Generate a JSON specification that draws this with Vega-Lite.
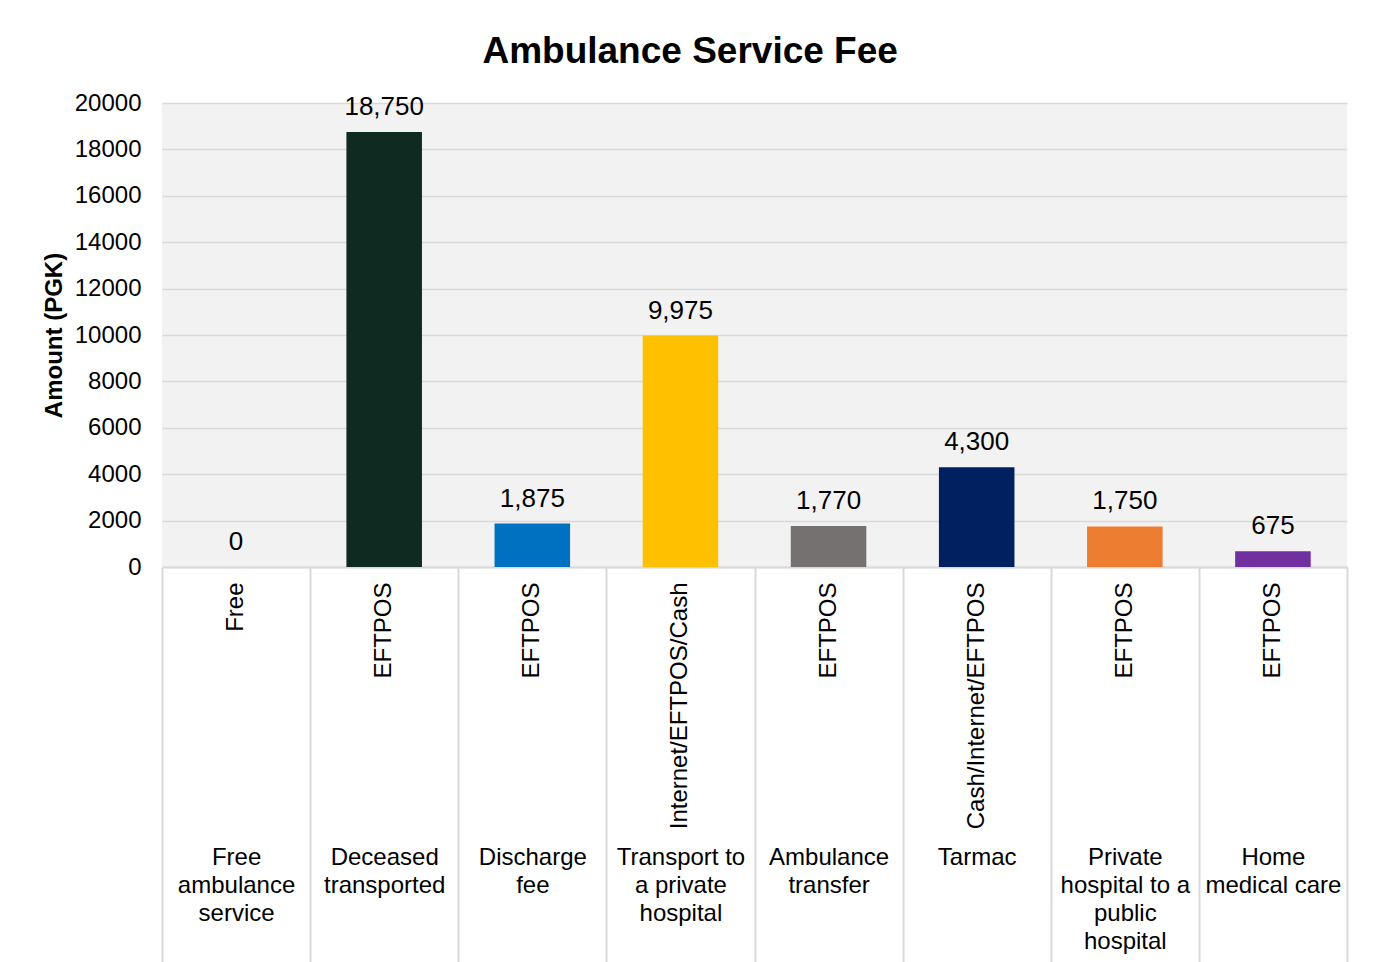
{
  "$schema": "https://vega.github.io/schema/vega-lite/v6.json",
  "autosize": {"type": "none"},
  "padding": {"left": 162, "top": 103, "right": 32, "bottom": 395},
  "width": 1185,
  "height": 464,
  "background": "white",
  "config": {
    "font": "Liberation Sans",
    "view": {"fill": "#f2f2f2", "stroke": null}
  },
  "title": {
    "text": "Ambulance Service Fee",
    "fontSize": 37,
    "fontWeight": "bold",
    "color": "black",
    "anchor": "middle",
    "frame": "bounds",
    "offset": 20,
    "dx": -5
  },
  "data": {
    "values": [
      {"key": "Free|ambulance|service^Free", "service": "Free ambulance service", "amount": 0},
      {"key": "Deceased|transported^EFTPOS", "service": "Deceased transported", "amount": 18750},
      {"key": "Discharge|fee^EFTPOS ", "service": "Discharge fee", "amount": 1875},
      {"key": "Transport to|a private|hospital^Internet/EFTPOS/Cash", "service": "Transport to a private hospital", "amount": 9975},
      {"key": "Ambulance|transfer^EFTPOS  ", "service": "Ambulance transfer", "amount": 1770},
      {"key": "Tarmac^Cash/Internet/EFTPOS", "service": "Tarmac", "amount": 4300},
      {"key": "Private|hospital to a|public|hospital^EFTPOS   ", "service": "Private hospital to a public hospital", "amount": 1750},
      {"key": "Home|medical care^EFTPOS    ", "service": "Home medical care", "amount": 675}
    ]
  },
  "encoding": {
    "x": {
      "field": "key",
      "type": "nominal",
      "sort": null,
      "scale": {"paddingInner": 0, "paddingOuter": 0}
    },
    "y": {
      "field": "amount",
      "type": "quantitative",
      "scale": {"domain": [0, 20000], "nice": false},
      "axis": {
        "title": "Amount (PGK)",
        "titleFontSize": 24,
        "titleFontWeight": "bold",
        "titleColor": "black",
        "titlePadding": 8,
        "values": [0, 2000, 4000, 6000, 8000, 10000, 12000, 14000, 16000, 18000, 20000],
        "format": "d",
        "labelFontSize": 24,
        "labelColor": "black",
        "labelPadding": 21,
        "domain": false,
        "ticks": false,
        "grid": true,
        "gridColor": "#d9d9d9",
        "gridWidth": 1.5
      }
    }
  },
  "layer": [
    {
      "mark": {"type": "bar", "width": {"band": 0.51}},
      "encoding": {
        "x": {
          "field": "key",
          "type": "nominal",
          "sort": null,
          "axis": {
            "orient": "bottom",
            "title": null,
            "labelExpr": "datum.value ? trim(split(datum.value, '^')[1]) : ''",
            "labelAngle": 270,
            "labelAlign": "right",
            "labelBaseline": "middle",
            "labelFontSize": 24,
            "labelColor": "black",
            "labelPadding": 15,
            "labelLimit": 400,
            "ticks": false,
            "domain": true,
            "domainColor": "#d9d9d9",
            "domainWidth": 2,
            "grid": false
          }
        },
        "color": {
          "field": "service",
          "type": "nominal",
          "legend": null,
          "scale": {
            "domain": ["Free ambulance service", "Deceased transported", "Discharge fee", "Transport to a private hospital", "Ambulance transfer", "Tarmac", "Private hospital to a public hospital", "Home medical care"],
            "range": ["#a5a5a5", "#0f2b21", "#0070c0", "#ffc000", "#767171", "#002060", "#ed7d31", "#7030a0"]
          }
        }
      }
    },
    {
      "mark": {"type": "text", "fontSize": 26, "baseline": "alphabetic", "dy": -17, "color": "black"},
      "encoding": {
        "x": {
          "field": "key",
          "type": "nominal",
          "sort": null,
          "axis": {
            "orient": "bottom",
            "title": null,
            "labelExpr": "datum.value ? split(split(datum.value, '^')[0], '|') : ''",
            "labelAngle": 0,
            "labelAlign": "center",
            "labelBaseline": "top",
            "labelFontSize": 24,
            "labelLineHeight": 28,
            "labelColor": "black",
            "labelLimit": 400,
            "ticks": true,
            "tickBand": "extent",
            "tickSize": 395,
            "tickColor": "#d9d9d9",
            "tickWidth": 2,
            "labelPadding": -117,
            "domain": false,
            "grid": false
          }
        },
        "text": {"field": "amount", "type": "quantitative", "format": ","}
      }
    }
  ],
  "resolve": {"axis": {"x": "independent"}}
}
